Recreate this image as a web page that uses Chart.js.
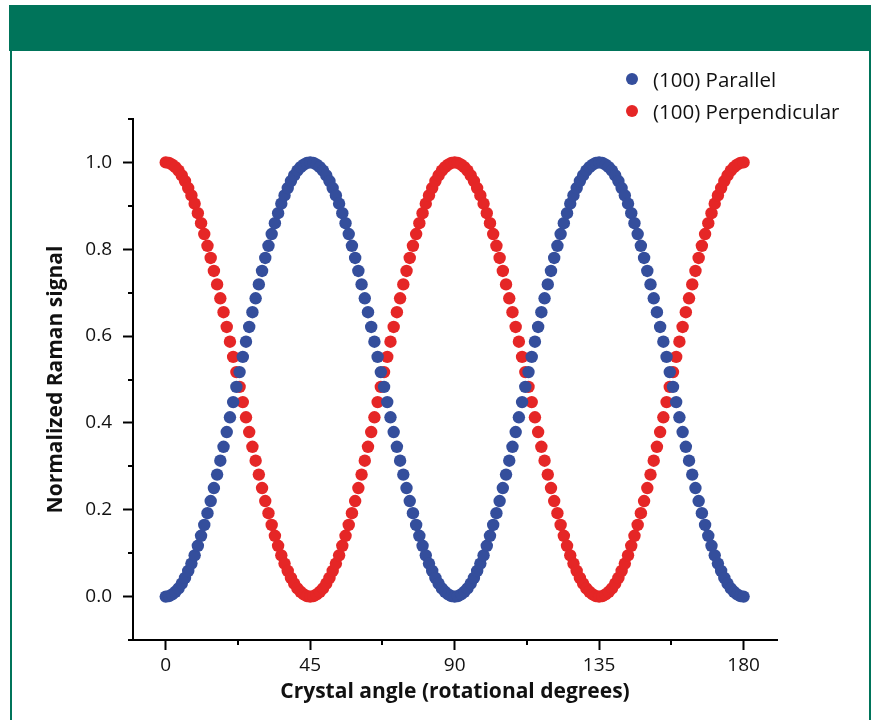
<!DOCTYPE html>
<html>
<head>
<meta charset="utf-8">
<script src="https://cdn.jsdelivr.net/npm/chart.js@4/dist/chart.umd.min.js"></script>
<style>
    body { margin: 0; background: #fff; }
    #quadro { position: relative; width: 875px; height: 720px; overflow: hidden; }
    #faixa { position: absolute; left: 9px; top: 5px; width: 862px; height: 46px; background: #00745a; }
    #borda { position: absolute; left: 10px; top: 51px; width: 857px; height: 700px; border-left: 2px solid #00745a; border-right: 2px solid #00745a; }
    canvas { position: absolute; left: 0; top: 0; }
    #legenda { position: absolute; left: 626px; top: 63px; font-family: "Open Sans"; font-size: 20.5px; color: #111; }
    .item { height: 32px; display: flex; align-items: center; }
    .bola { width: 12px; height: 12px; border-radius: 50%; margin-right: 15px; }
</style>
</head>
<body>
<div id="quadro">
    <div id="faixa"></div>
    <div id="borda"></div>
    <canvas id="grafico" width="875" height="720"></canvas>
    <div id="legenda"></div>
</div>
<script>
// angulo do cristal (graus)
const angulos = [
    0, 1, 2, 3, 4, 5, 6, 7, 8, 9, 10, 11, 12, 13, 14, 15, 16, 17, 18, 19,
    20, 21, 22, 23, 24, 25, 26, 27, 28, 29, 30, 31, 32, 33, 34, 35, 36, 37, 38, 39,
    40, 41, 42, 43, 44, 45, 46, 47, 48, 49, 50, 51, 52, 53, 54, 55, 56, 57, 58, 59,
    60, 61, 62, 63, 64, 65, 66, 67, 68, 69, 70, 71, 72, 73, 74, 75, 76, 77, 78, 79,
    80, 81, 82, 83, 84, 85, 86, 87, 88, 89, 90, 91, 92, 93, 94, 95, 96, 97, 98, 99,
    100, 101, 102, 103, 104, 105, 106, 107, 108, 109, 110, 111, 112, 113, 114, 115, 116, 117, 118, 119,
    120, 121, 122, 123, 124, 125, 126, 127, 128, 129, 130, 131, 132, 133, 134, 135, 136, 137, 138, 139,
    140, 141, 142, 143, 144, 145, 146, 147, 148, 149, 150, 151, 152, 153, 154, 155, 156, 157, 158, 159,
    160, 161, 162, 163, 164, 165, 166, 167, 168, 169, 170, 171, 172, 173, 174, 175, 176, 177, 178, 179,
    180
];

// (100) Parallel
const paralelo = [
    // 0-45
    0, 0.001, 0.005, 0.011, 0.019, 0.030, 0.043, 0.059, 0.076, 0.095, 0.117, 0.140, 0.165, 0.192, 0.220, 0.250,
    0.281, 0.313, 0.345, 0.379, 0.413, 0.448, 0.483, 0.517, 0.552, 0.587, 0.621, 0.655, 0.687, 0.719, 0.750,
    0.780, 0.808, 0.835, 0.860, 0.883, 0.905, 0.924, 0.941, 0.957, 0.970, 0.981, 0.989, 0.995, 0.999, 1,
    // 46-90
    0.999, 0.995, 0.989, 0.981, 0.970, 0.957, 0.941, 0.924, 0.905, 0.883, 0.860, 0.835, 0.808, 0.780, 0.750,
    0.719, 0.687, 0.655, 0.621, 0.587, 0.552, 0.517, 0.483, 0.448, 0.413, 0.379, 0.345, 0.313, 0.281, 0.250,
    0.220, 0.192, 0.165, 0.140, 0.117, 0.095, 0.076, 0.059, 0.043, 0.030, 0.019, 0.011, 0.005, 0.001, 0,
    // 91-135
    0.001, 0.005, 0.011, 0.019, 0.030, 0.043, 0.059, 0.076, 0.095, 0.117, 0.140, 0.165, 0.192, 0.220, 0.250,
    0.281, 0.313, 0.345, 0.379, 0.413, 0.448, 0.483, 0.517, 0.552, 0.587, 0.621, 0.655, 0.687, 0.719, 0.750,
    0.780, 0.808, 0.835, 0.860, 0.883, 0.905, 0.924, 0.941, 0.957, 0.970, 0.981, 0.989, 0.995, 0.999, 1,
    // 136-180
    0.999, 0.995, 0.989, 0.981, 0.970, 0.957, 0.941, 0.924, 0.905, 0.883, 0.860, 0.835, 0.808, 0.780, 0.750,
    0.719, 0.687, 0.655, 0.621, 0.587, 0.552, 0.517, 0.483, 0.448, 0.413, 0.379, 0.345, 0.313, 0.281, 0.250,
    0.220, 0.192, 0.165, 0.140, 0.117, 0.095, 0.076, 0.059, 0.043, 0.030, 0.019, 0.011, 0.005, 0.001, 0
];

// (100) Perpendicular
const perpendicular = [
    // 0-45
    1, 0.999, 0.995, 0.989, 0.981, 0.970, 0.957, 0.941, 0.924, 0.905, 0.883, 0.860, 0.835, 0.808, 0.780, 0.750,
    0.719, 0.687, 0.655, 0.621, 0.587, 0.552, 0.517, 0.483, 0.448, 0.413, 0.379, 0.345, 0.313, 0.281, 0.250,
    0.220, 0.192, 0.165, 0.140, 0.117, 0.095, 0.076, 0.059, 0.043, 0.030, 0.019, 0.011, 0.005, 0.001, 0,
    // 46-90
    0.001, 0.005, 0.011, 0.019, 0.030, 0.043, 0.059, 0.076, 0.095, 0.117, 0.140, 0.165, 0.192, 0.220, 0.250,
    0.281, 0.313, 0.345, 0.379, 0.413, 0.448, 0.483, 0.517, 0.552, 0.587, 0.621, 0.655, 0.687, 0.719, 0.750,
    0.780, 0.808, 0.835, 0.860, 0.883, 0.905, 0.924, 0.941, 0.957, 0.970, 0.981, 0.989, 0.995, 0.999, 1,
    // 91-135
    0.999, 0.995, 0.989, 0.981, 0.970, 0.957, 0.941, 0.924, 0.905, 0.883, 0.860, 0.835, 0.808, 0.780, 0.750,
    0.719, 0.687, 0.655, 0.621, 0.587, 0.552, 0.517, 0.483, 0.448, 0.413, 0.379, 0.345, 0.313, 0.281, 0.250,
    0.220, 0.192, 0.165, 0.140, 0.117, 0.095, 0.076, 0.059, 0.043, 0.030, 0.019, 0.011, 0.005, 0.001, 0,
    // 136-180
    0.001, 0.005, 0.011, 0.019, 0.030, 0.043, 0.059, 0.076, 0.095, 0.117, 0.140, 0.165, 0.192, 0.220, 0.250,
    0.281, 0.313, 0.345, 0.379, 0.413, 0.448, 0.483, 0.517, 0.552, 0.587, 0.621, 0.655, 0.687, 0.719, 0.750,
    0.780, 0.808, 0.835, 0.860, 0.883, 0.905, 0.924, 0.941, 0.957, 0.970, 0.981, 0.989, 0.995, 0.999, 1
];

// marcas dos eixos (as sem rotulo sao as menores)
const ticksX = [0, 22.5, 45, 67.5, 90, 112.5, 135, 157.5, 180];
const rotulosX = [0, 45, 90, 135, 180];
const ticksY = [-0.1, 0, 0.1, 0.2, 0.3, 0.4, 0.5, 0.6, 0.7, 0.8, 0.9, 1.0, 1.1];
const rotulosY = [0, 0.2, 0.4, 0.6, 0.8, 1.0];

const nomes = ['(100) Parallel', '(100) Perpendicular'];
const cores = ['#344e9c', '#e52626'];

const fonte = 'Open Sans';

function ehRotuloX(v) {
    return rotulosX.includes(v);
}

function ehRotuloY(v) {
    return rotulosY.some(r => Math.abs(r - v) < 1e-6);
}

function pontos(valores) {
    return angulos.map((a, i) => ({ x: a, y: valores[i] }));
}

// tracinhos menores
const tracosMenores = {
    id: 'tracosMenores',
    afterDraw(chart) {
        const { ctx, scales: { x, y } } = chart;
        ctx.save();
        ctx.strokeStyle = '#000';
        ctx.lineWidth = 2;
        ticksX.filter(v => !ehRotuloX(v)).forEach(v => {
            const px = Math.round(x.getPixelForValue(v));
            ctx.beginPath();
            ctx.moveTo(px, x.top);
            ctx.lineTo(px, x.top + 5);
            ctx.stroke();
        });
        ticksY.filter(v => !ehRotuloY(v)).forEach(v => {
            const py = Math.round(y.getPixelForValue(v));
            ctx.beginPath();
            ctx.moveTo(y.right, py);
            ctx.lineTo(y.right - 5, py);
            ctx.stroke();
        });
        ctx.restore();
    }
};

const ctx = document.getElementById('grafico').getContext('2d');

const grafico = new Chart(ctx, {
    type: 'scatter',
    data: {
        datasets: [
            {
                label: nomes[0],
                data: pontos(paralelo),
                backgroundColor: cores[0],
                pointRadius: 6.2,
                pointHoverRadius: 6.2,
                pointBorderWidth: 0
            },
            {
                label: nomes[1],
                data: pontos(perpendicular),
                backgroundColor: cores[1],
                pointRadius: 6.2,
                pointHoverRadius: 6.2,
                pointBorderWidth: 0
            }
        ]
    },
    options: {
        responsive: false,
        animation: false,
        layout: { padding: { top: 119, right: 98, left: 0, bottom: 0 } },
        plugins: {
            legend: { display: false },
            tooltip: { enabled: false }
        },
        scales: {
            x: {
                type: 'linear',
                min: -10.2,
                max: 190.4,
                afterBuildTicks: s => { s.ticks = ticksX.map(v => ({ value: v })); },
                afterFit: s => { s.height = 80; },
                ticks: {
                    autoSkip: false,
                    maxRotation: 0,
                    padding: 4,
                    color: '#111',
                    font: { family: fonte, size: 19 },
                    callback: v => ehRotuloX(v) ? String(v) : ''
                },
                grid: {
                    drawOnChartArea: false,
                    tickLength: 10,
                    tickWidth: 2,
                    tickColor: c => (c.tick && ehRotuloX(c.tick.value)) ? '#000' : 'rgba(0,0,0,0)'
                },
                border: { color: '#000', width: 2 },
                title: {
                    display: true,
                    text: 'Crystal angle (rotational degrees)',
                    color: '#111',
                    font: { family: fonte, size: 21, weight: 'bold' },
                    padding: { top: 4, bottom: 15 }
                }
            },
            y: {
                min: -0.1,
                max: 1.1,
                afterBuildTicks: s => { s.ticks = ticksY.map(v => ({ value: v })); },
                afterFit: s => { s.width = 133; },
                ticks: {
                    autoSkip: false,
                    padding: 11,
                    color: '#111',
                    font: { family: fonte, size: 19 },
                    callback: v => ehRotuloY(v) ? v.toFixed(1) : ''
                },
                grid: {
                    drawOnChartArea: false,
                    tickLength: 10,
                    tickWidth: 2,
                    tickColor: c => (c.tick && ehRotuloY(c.tick.value)) ? '#000' : 'rgba(0,0,0,0)'
                },
                border: { color: '#000', width: 2 },
                title: {
                    display: true,
                    text: 'Normalized Raman signal',
                    color: '#111',
                    font: { family: fonte, size: 21, weight: 'bold' },
                    padding: { top: 43, bottom: 0 }
                }
            }
        }
    },
    plugins: [tracosMenores]
});

// legenda em html, empilhada como no original
const legenda = document.getElementById('legenda');
grafico.data.datasets.forEach(ds => {
    const item = document.createElement('div');
    item.className = 'item';
    const bola = document.createElement('span');
    bola.className = 'bola';
    bola.style.background = ds.backgroundColor;
    const texto = document.createElement('span');
    texto.textContent = ds.label;
    item.appendChild(bola);
    item.appendChild(texto);
    legenda.appendChild(item);
});
</script>
</body>
</html>
